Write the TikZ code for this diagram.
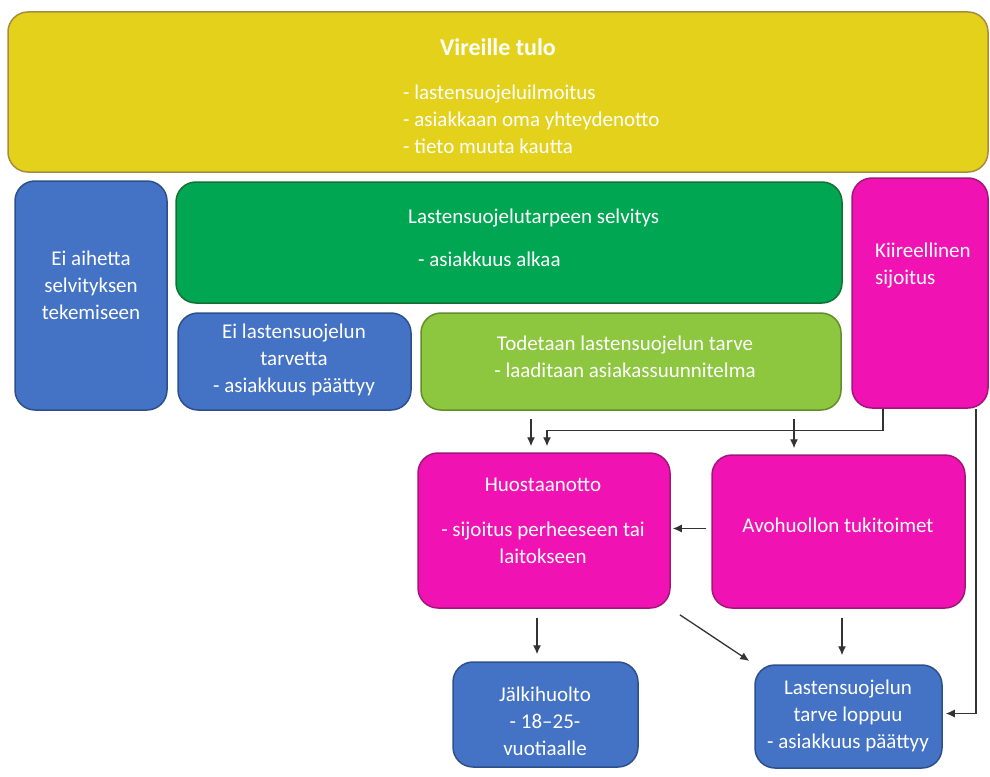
\documentclass[tikz,border=0pt]{standalone}
\usepackage{fontspec}
\setmainfont{Carlito}
\usetikzlibrary{arrows.meta}

\definecolor{keltainen}{RGB}{228,209,27}
\definecolor{keltainenreuna}{RGB}{168,140,62}
\definecolor{sininen}{RGB}{68,114,196}
\definecolor{sininenreuna}{RGB}{45,80,140}
\definecolor{vihrea}{RGB}{0,166,81}
\definecolor{vihreareuna}{RGB}{22,112,52}
\definecolor{vaalea}{RGB}{141,198,63}
\definecolor{vaaleareuna}{RGB}{98,142,42}
\definecolor{pinkki}{RGB}{240,18,178}
\definecolor{pinkkireuna}{RGB}{162,22,122}

\tikzset{
  box/.style={draw, rounded corners=20pt, line width=1.5pt, inner sep=0pt},
  yellowbox/.style={box, fill=keltainen, draw=keltainenreuna},
  bluebox/.style={box, fill=sininen, draw=sininenreuna},
  greenbox/.style={box, fill=vihrea, draw=vihreareuna},
  limebox/.style={box, fill=vaalea, draw=vaaleareuna},
  pinkbox/.style={box, fill=pinkki, draw=pinkkireuna},
  txt/.style={text=white, font=\fontsize{21}{27}\selectfont, inner sep=0pt},
  nuoli/.style={-{Latex[length=9pt,width=8pt]}, line width=1.3pt, draw=black!80},
}

\begin{document}
\begin{tikzpicture}[x=1pt, y=-1pt]

    \fill[white] (0,0) rectangle (990,776);

    % Define boxes
    \node[yellowbox, minimum width=980pt, minimum height=160pt] (vireille)     at (498,92)    {};
    \node[bluebox,   minimum width=152pt, minimum height=229pt] (eiaihetta)    at (91,295.5)  {};
    \node[greenbox,  minimum width=666pt, minimum height=121pt] (selvitys)     at (509,242.5) {};
    \node[pinkbox,   minimum width=136pt, minimum height=230pt] (kiireellinen) at (920,293)   {};
    \node[bluebox,   minimum width=233pt, minimum height=97pt]  (eitarvetta)   at (294.5,361.5) {};
    \node[limebox,   minimum width=420pt, minimum height=97pt]  (todetaan)     at (631,361.5) {};
    \node[pinkbox,   minimum width=252pt, minimum height=155pt] (huostaanotto) at (544,530.5) {};
    \node[pinkbox,   minimum width=253pt, minimum height=153pt] (avohuolto)    at (838.5,531.5) {};
    \node[bluebox,   minimum width=185pt, minimum height=105pt] (jalkihuolto)  at (545.5,714.5) {};
    \node[bluebox,   minimum width=187pt, minimum height=103pt] (loppuu)       at (848.5,716.5) {};

    % Texts
    \node[txt, font=\fontsize{24}{27}\selectfont\bfseries] (vireilleotsikko) at (498,47) {Vireille tulo};
    \node[txt, anchor=west, align=left] (vireillelista) at (403,119)
        {- lastensuojeluilmoitus\\- asiakkaan oma yhteydenotto\\- tieto muuta kautta};
    \node[txt, align=center] (eiaihettateksti) at (91,285) {Ei aihetta\\selvityksen\\tekemiseen};
    \node[txt, anchor=west, align=left] (selvitysteksti) at (408,238)
        {Lastensuojelutarpeen selvitys\\[16pt]\hspace*{10pt}- asiakkuus alkaa};
    \node[txt, anchor=west, align=left] (kiireellinenteksti) at (875,266) {Kiireellinen\\sijoitus};
    \node[txt, align=center] (eitarvettateksti) at (294,360) {Ei lastensuojelun\\tarvetta\\- asiakkuus päättyy};
    \node[txt, align=center] (todetaanteksti) at (625,357)
        {Todetaan lastensuojelun tarve\\- laaditaan asiakassuunnitelma};
    \node[txt, align=center] (huostaanottoteksti) at (543,521)
        {Huostaanotto\\[18pt]- sijoitus perheeseen tai\\laitokseen};
    \node[txt] (avohuoltoteksti) at (838,525) {Avohuollon tukitoimet};
    \node[txt, align=center] (jalkihuoltoteksti) at (545,721) {Jälkihuolto\\- 18--25-\\vuotiaalle};
    \node[txt, align=center] (loppuuteksti) at (848,716) {Lastensuojelun\\tarve loppuu\\- asiakkuus päättyy};

    % Connect the boxes
    \draw[nuoli, shorten <=8pt, shorten >=6pt] ([xshift=-100pt]todetaan.south)
        -- ([xshift=-100pt]todetaan.south |- huostaanotto.north);
    \draw[nuoli, shorten >=6pt] ([xshift=-37pt]kiireellinen.south)
        |- ([xshift=3pt, yshift=22pt]huostaanotto.north) -- ([xshift=3pt]huostaanotto.north);
    \draw[nuoli, shorten <=8pt, shorten >=6pt] ([xshift=163pt]todetaan.south)
        -- ([xshift=163pt]todetaan.south |- avohuolto.north);
    \draw[nuoli, shorten >=3pt] ([xshift=56pt]kiireellinen.south) |- ([yshift=3pt]loppuu.east);
    \draw[nuoli, shorten <=5pt, shorten >=2pt] ([yshift=3pt]avohuolto.west)
        -- ([yshift=3pt]avohuolto.west -| huostaanotto.east);
    \draw[nuoli, shorten <=9pt, shorten >=7pt] ([xshift=-7pt]huostaanotto.south)
        -- ([xshift=-7pt]huostaanotto.south |- jalkihuolto.north);
    \draw[nuoli, shorten <=9pt, shorten >=9pt] ([xshift=3.5pt]avohuolto.south)
        -- ([xshift=3.5pt]avohuolto.south |- loppuu.north);
    \draw[nuoli, shorten <=11pt, shorten >=6pt] (huostaanotto.south east) -- (loppuu.north west);

\end{tikzpicture}
\end{document}
